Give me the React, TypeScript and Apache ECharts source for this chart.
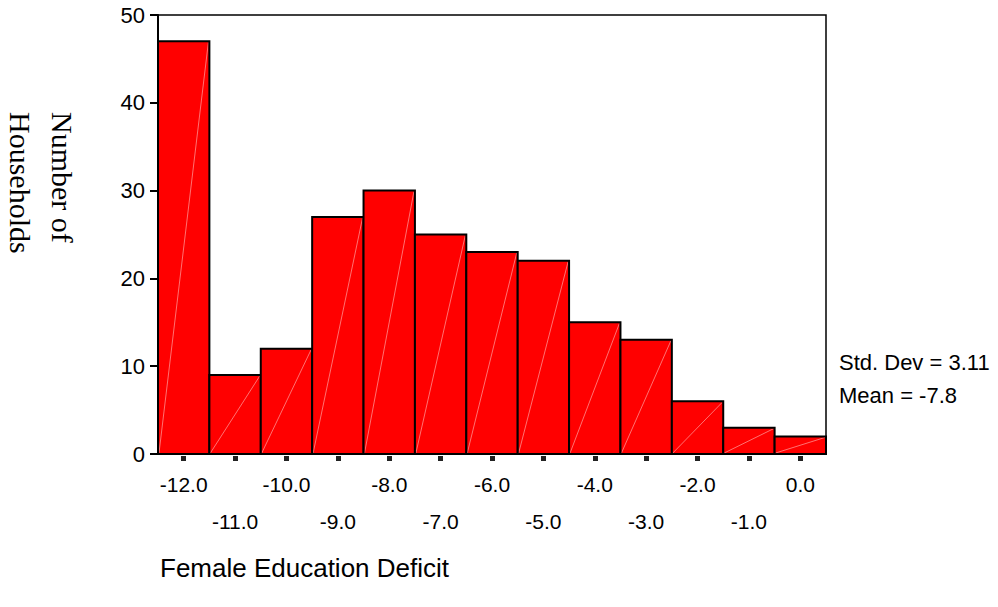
import React, { useEffect, useRef } from "react";
import * as echarts from "echarts";

const bins: number[] = [-12, -11, -10, -9, -8, -7, -6, -5, -4, -3, -2, -1, 0];
const counts: number[] = [47, 9, 12, 27, 30, 25, 23, 22, 15, 13, 6, 3, 2];
const yTicks = { min: 0, max: 50, interval: 10 };
const xTitle = "Female Education Deficit";
const yTitle = "Number of\nHouseholds";
const statLines: string[] = ["Std. Dev = 3.11", "Mean = -7.8"];

const SANS = "'Liberation Sans', Arial, sans-serif";
const SERIF = "'Liberation Serif', 'Times New Roman', serif";

export default function App() {
  const ref = useRef<HTMLDivElement>(null);
  useEffect(() => {
    document.body.style.margin = "0";
    const chart = echarts.init(ref.current!, null, { renderer: "svg" });
    const data = bins.map((b, i) => [b, counts[i]]);
    const xMin = bins[0] - 0.5;
    const xMax = bins[bins.length - 1] + 0.5;
    chart.setOption({
      animation: false,
      backgroundColor: "#ffffff",
      grid: {
        left: 158,
        top: 15,
        right: 172,
        bottom: 153,
        show: true,
        borderColor: "#000",
        borderWidth: 1.5,
        backgroundColor: "transparent",
      },
      xAxis: [
        {
          type: "value",
          min: xMin,
          max: xMax,
          axisLine: { show: true, onZero: false, lineStyle: { color: "#000", width: 2 } },
          axisTick: { show: false },
          splitLine: { show: false },
          axisLabel: {
            customValues: bins,
            margin: 12,
            color: "#000",
            fontFamily: SANS,
            fontSize: 21,
            lineHeight: 37,
            formatter: (v: number) => {
              const s = v.toFixed(1);
              return Math.abs(Math.round(v)) % 2 === 1 ? "\n" + s : s;
            },
          },
        },
        {
          type: "value",
          min: xMin,
          max: xMax,
          position: "bottom",
          offset: 2,
          axisLine: { show: false, onZero: false },
          axisLabel: { show: false },
          splitLine: { show: false },
          axisTick: {
            show: true,
            customValues: bins,
            length: 5,
            lineStyle: { color: "#222", width: 5 },
          },
        },
      ],
      yAxis: {
        type: "value",
        min: yTicks.min,
        max: yTicks.max,
        interval: yTicks.interval,
        position: "left",
        axisLine: { show: true, onZero: false, lineStyle: { color: "#000", width: 2 } },
        axisTick: { show: true, length: 8, lineStyle: { color: "#000", width: 2 } },
        splitLine: { show: false },
        axisLabel: { margin: 13, color: "#000", fontFamily: SANS, fontSize: 22 },
      },
      series: [
        {
          type: "custom",
          xAxisIndex: 0,
          data,
          renderItem: (params: any, api: any) => {
            const x = api.value(0);
            const y = api.value(1);
            const p0 = api.coord([x - 0.5, 0]);
            const p1 = api.coord([x + 0.5, y]);
            const shape = { x: p0[0], y: p1[1], width: p1[0] - p0[0], height: p0[1] - p1[1] };
            return {
              type: "group",
              children: [
                { type: "rect", shape, style: { fill: "#ff0000", stroke: "none" } },
                {
                  type: "line",
                  shape: { x1: p0[0] + 1, y1: p0[1] - 1, x2: p1[0] - 1, y2: p1[1] + 1 },
                  style: { stroke: "rgba(255,190,190,0.75)", lineWidth: 0.8 },
                },
                { type: "rect", shape, style: { fill: "none", stroke: "#000", lineWidth: 2 } },
              ],
            };
          },
        },
      ],
      graphic: [
        {
          type: "text",
          x: 41,
          y: 112,
          rotation: -Math.PI / 2,
          style: {
            text: yTitle,
            font: `30px ${SERIF}`,
            fill: "#000",
            textAlign: "left",
            textVerticalAlign: "middle",
            lineHeight: 42,
          },
        },
        {
          type: "text",
          x: 160,
          y: 568,
          style: {
            text: xTitle,
            font: `26px ${SANS}`,
            fill: "#000",
            textAlign: "left",
            textVerticalAlign: "middle",
          },
        },
        ...statLines.map((t, i) => ({
          type: "text",
          x: 839,
          y: 362 + i * 33,
          style: {
            text: t,
            font: `22px ${SANS}`,
            fill: "#000",
            textAlign: "left",
            textVerticalAlign: "middle",
          },
        })),
      ],
    });
    return () => chart.dispose();
  }, []);
  return (
    <div
      ref={ref}
      style={{ position: "fixed", left: 0, top: 0, width: 998, height: 607, background: "#fff" }}
    />
  );
}
